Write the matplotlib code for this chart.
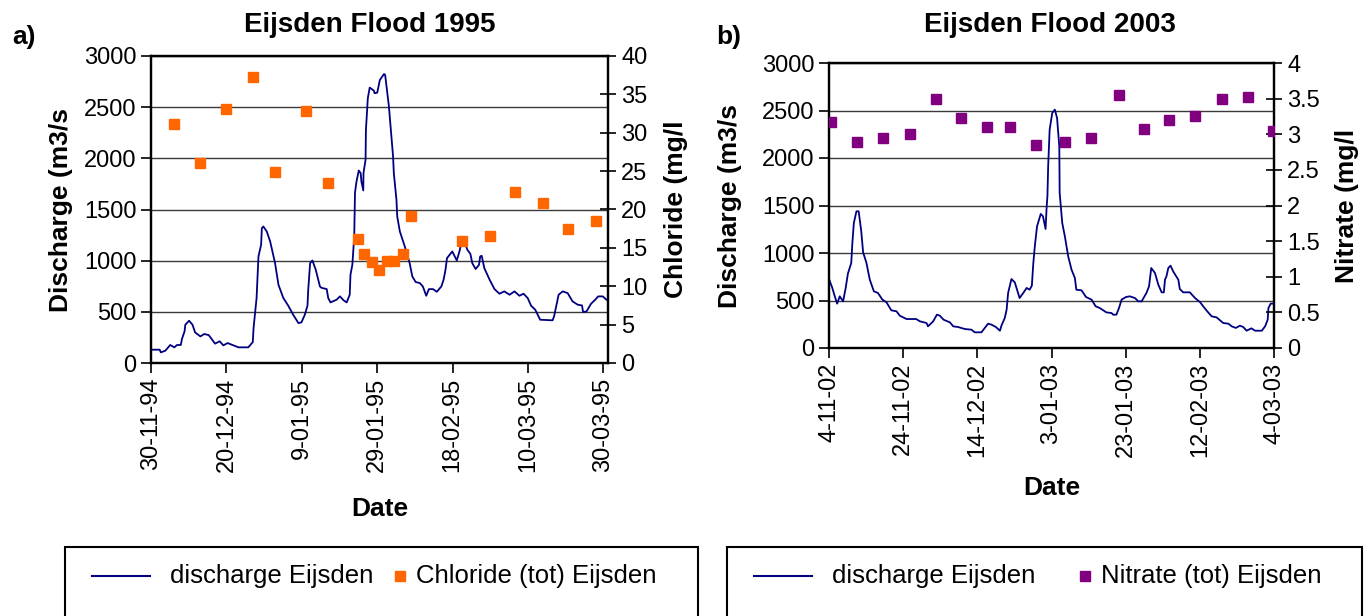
import datetime as dt
import matplotlib
matplotlib.use('Agg')
import matplotlib.pyplot as plt
import matplotlib.dates as mdates
from matplotlib.lines import Line2D
from matplotlib.patches import Rectangle
from matplotlib.ticker import FuncFormatter, MultipleLocator

plt.rcParams['font.family'] = ['Liberation Sans', 'DejaVu Sans']

# ---------------- data: flood 1995 (days since 30-11-94) ----------------
START_95 = dt.datetime(1994, 11, 30)
q95_day = [0, 2.3, 2.6, 3.8, 5.1, 6.2, 6.9, 7.9, 8.2, 8.9, 9.1, 10.1, 11.0, 11.7, 13.1, 14.1,
           15.3, 17.0, 18.2, 19.2, 20.3, 21.9, 23.2, 25.8, 27.0, 27.2, 28.0, 28.5, 29.2, 29.4,
           29.8, 30.7, 31.6, 32.9, 33.8, 35.1, 36.4, 37.7, 39.1, 39.9, 40.8, 41.5, 41.7, 42.2,
           42.8, 43.7, 44.8, 45.2, 46.6, 47.0, 47.6, 49.2, 50.1, 51.1, 51.9, 52.7, 52.9, 53.4,
           53.9, 54.1, 54.5, 55.1, 55.6, 55.8, 56.3, 56.35, 56.9, 57.0, 57.5, 58.0, 59.1, 59.3,
           60.0, 60.7, 61.8, 62.1, 63.1, 64.2, 64.4, 65.1, 65.3, 66.0, 67.3, 68.6, 69.3, 70.2,
           71.3, 72.1, 73.0, 73.7, 74.8, 75.8, 77.0, 77.6, 78.1, 78.5, 79.9, 81.1, 81.8, 82.3,
           83.2, 83.9, 84.7, 85.2, 86.1, 87.0, 87.3, 87.7, 88.4, 89.8, 91.1, 92.4, 93.7, 95.1,
           96.4, 97.7, 98.8, 99.9, 100.8, 101.9, 103.2, 106.5, 106.9, 108.1, 109.2, 110.5,
           111.8, 113.2, 114.3, 114.6, 115.5, 116.7, 117.8, 118.6, 119.8, 120.8]
q95_val = [130, 130, 104, 120, 176, 153, 176, 176, 234, 309, 374, 413, 374, 299, 260, 283,
           273, 189, 212, 172, 195, 172, 153, 153, 205, 342, 635, 1041, 1155, 1318,
           1334, 1285, 1188, 976, 765, 635, 560, 472, 390, 397, 472, 560, 716, 976,
           1002, 911, 748, 735, 722, 635, 592, 618, 651, 612, 592, 667, 862, 960,
           1237, 1666, 1773, 1881, 1855, 1773, 1686, 1855, 1985, 2278, 2587, 2691, 2662, 2636,
           2642, 2766, 2824, 2815, 2506, 2017, 1855, 1594, 1432, 1285, 1139, 976, 846, 791,
           781, 748, 657, 722, 722, 696, 748, 814, 911, 1025, 1090, 1002, 1090, 1171,
           1178, 1106, 1067, 976, 918, 960, 1041, 1048, 927, 814, 722, 677, 700, 667,
           700, 657, 677, 635, 560, 521, 423, 417, 456, 667, 700, 683,
           602, 569, 563, 498, 504, 579, 618, 651, 651, 618]
cl_day = [6, 13, 20, 27, 33, 41, 47, 55, 56.6, 58.7, 60.4, 62.7, 64.5, 66.7, 69, 82.5, 90,
          96.5, 104, 110.6, 118]
cl_val = [31.1, 26.1, 33.1, 37.2, 24.9, 32.8, 23.5, 16.2, 14.2, 13.2, 12.1, 13.3, 13.3, 14.2,
          19.1, 15.9, 16.5, 22.3, 20.9, 17.4, 18.5]

# ---------------- data: flood 2003 (days since 4-11-02) ----------------
START_03 = dt.datetime(2002, 11, 4)
q03_day = [0, 0.9, 1.5, 2.2, 2.9, 3.8, 4.5, 5.1, 6.0, 6.3, 6.7, 7.4, 8.0, 8.7, 9.2, 10.1,
           11.0, 12.1, 13.2, 14.4, 15.5, 16.8, 18.2, 19.1, 20.9, 23.5, 24.5, 26.3, 26.7, 28.1,
           29.1, 29.9, 30.9, 32.6, 33.5, 34.8, 36.6, 38.4, 39.3, 41.1, 42.0, 42.9, 43.8, 45.0,
           46.1, 46.5, 47.4, 47.9, 48.3, 49.2, 50.1, 51.4, 52.5, 53.3, 54.1, 54.7, 55.1, 55.5,
           56.1, 57.1, 57.7, 58.4, 58.7, 58.9, 59.1, 59.5, 60.2, 60.9, 61.5, 62.1, 62.2, 62.9,
           63.6, 64.5, 65.4, 66.3, 66.7, 68.1, 69.3, 70.8, 71.9, 73.0, 74.8, 76.2, 76.6, 77.5,
           78.2, 78.9, 80.1, 81.1, 82.5, 83.4, 84.3, 85.6, 86.3, 86.9, 87.9, 88.8, 89.7, 90.3,
           90.6, 91.0, 91.5, 92.1, 92.8, 94.2, 94.6, 95.5, 97.3, 98.7, 100.1, 100.9, 102.0,
           103.2, 104.5, 106.3, 107.7, 108.6, 109.7, 110.8, 111.7, 112.6, 113.9, 114.9, 116.7,
           117.6, 118.3, 118.5, 119.1, 120.0]
q03_val = [726, 632, 551, 467, 544, 491, 632, 783, 895, 1105, 1316, 1439, 1439, 1228, 1007, 895,
           719, 597, 579, 509, 481, 397, 386, 340, 305, 305, 281, 263, 228, 281,
           351, 340, 298, 270, 228, 221, 200, 193, 165, 165, 211, 256, 246, 221,
           182, 235, 316, 404, 579, 726, 691, 526, 586, 632, 614, 656, 895, 1070,
           1281, 1411, 1386, 1253, 1491, 1597, 1912, 2298, 2474, 2509, 2421, 2123, 1632, 1316,
           1176, 965, 825, 737, 614, 607, 537, 509, 439, 421, 375, 368, 351, 351,
           421, 509, 537, 544, 526, 491, 491, 579, 649, 842, 790, 667, 586, 586,
           719, 755, 842, 867, 807, 719, 621, 586, 586, 526, 481, 439, 386,
           333, 323, 263, 256, 228, 211, 235, 221, 182, 207, 182, 182,
           228, 298, 421, 467, 467]
no3_day = [0.6, 7.6, 14.6, 21.9, 28.8, 35.7, 42.5, 48.8, 55.8, 63.7, 70.6, 78.1, 84.9, 91.8,
           98.6, 106.1, 113.0, 119.8]
no3_val = [3.17, 2.89, 2.95, 3.01, 3.49, 3.23, 3.10, 3.10, 2.85, 2.89, 2.95, 3.55, 3.07, 3.20,
           3.26, 3.49, 3.52, 3.04]

LINE_C = '#000080'
CL_C = '#FF6600'
NO3_C = '#800080'
GRID_C = '#3a3a3a'
TICK_FS = 17
LAB_FS = 19
W, H = 1366, 616


def fmt_date(x, pos=None):
    d = mdates.num2date(x)
    return f"{d.day}-{d.month:02d}-{d.year % 100:02d}"


def make_panel(rect, start, qd, qv, sd, sv, scol, ylim2, step2, rlabel, xmax,
               xpad, lpad, rpad):
    t0 = mdates.date2num(start)
    ax = fig.add_axes(rect)
    ax.plot([t0 + d for d in qd], qv, color=LINE_C, lw=1.3, zorder=3)
    ax.set_ylim(0, 3000)
    ax.set_xlim(t0, t0 + xmax)
    ax.yaxis.set_major_locator(MultipleLocator(500))
    ax.set_xticks([t0 + d for d in range(0, 121, 20)])
    ax.xaxis.set_major_formatter(FuncFormatter(fmt_date))
    ax.grid(axis='y', color=GRID_C, lw=1.0)
    ax.set_axisbelow(True)
    ax.tick_params(axis='y', direction='out', length=7, width=1.2, labelsize=TICK_FS)
    ax.tick_params(axis='x', direction='out', length=7, width=1.2, labelsize=TICK_FS,
                   labelrotation=90)
    for s in ax.spines.values():
        s.set_linewidth(1.6)
    ax.set_ylabel('Discharge (m3/s', fontsize=LAB_FS, fontweight='bold', labelpad=lpad)
    ax.set_xlabel('Date', fontsize=LAB_FS, fontweight='bold', labelpad=xpad)

    ax2 = ax.twinx()
    ax2.plot([t0 + d for d in sd], sv, 's', color=scol, ms=7, zorder=4)
    ax2.set_ylim(0, ylim2)
    ax2.yaxis.set_major_locator(MultipleLocator(step2))
    ax2.yaxis.set_major_formatter(FuncFormatter(lambda v, p: f"{v:g}"))
    ax2.tick_params(axis='y', direction='inout', length=12, width=1.2, labelsize=TICK_FS)
    for s in ax2.spines.values():
        s.set_linewidth(1.6)
    ax2.set_ylabel(rlabel, fontsize=LAB_FS, fontweight='bold', labelpad=rpad)
    ax2.set_xlim(t0, t0 + xmax)
    return ax, ax2


def legend_box(x0, x1, name, col, mk_off):
    fig.patches.append(Rectangle((x0 / W, -0.1), (x1 - x0) / W, 0.1 + (H - 547) / H,
                                 transform=fig.transFigure, fill=False, ec='black', lw=1.5))
    yl = 1 - 576 / H
    fig.add_artist(Line2D([(x0 + 27) / W, (x0 + 85) / W], [yl, yl], color=LINE_C, lw=1.5,
                          transform=fig.transFigure))
    fig.text((x0 + 105) / W, yl, 'discharge Eijsden', fontsize=18.5, va='center')
    fig.add_artist(Line2D([(x0 + mk_off) / W], [yl], ls='none', marker='s', color=col, ms=7,
                          transform=fig.transFigure))
    fig.text((x0 + mk_off + 16) / W, yl, name, fontsize=18.5, va='center')


fig = plt.figure(figsize=(13.66, 6.16), dpi=100)

make_panel([151 / W, (H - 363) / H, 457 / W, 307 / H], START_95, q95_day, q95_val,
           cl_day, cl_val, CL_C, 40, 5, 'Chloride (mg/l', 121.2, 18, 8, 12)
make_panel([829 / W, (H - 348) / H, 445 / W, 285 / H], START_03, q03_day, q03_val,
           no3_day, no3_val, NO3_C, 4, 0.5, 'Nitrate (mg/l', 120, 14, 14, 11)

fig.text(370 / W, 1 - 25 / H, 'Eijsden Flood 1995', fontsize=20, fontweight='bold',
         ha='center', va='center')
fig.text(1050 / W, 1 - 25 / H, 'Eijsden Flood 2003', fontsize=20, fontweight='bold',
         ha='center', va='center')
fig.text(12 / W, 1 - 37 / H, 'a)', fontsize=19, fontweight='bold', va='center')
fig.text(716 / W, 1 - 37 / H, 'b)', fontsize=19, fontweight='bold', va='center')

legend_box(65, 698, 'Chloride (tot) Eijsden', CL_C, 335)
legend_box(727, 1362, 'Nitrate (tot) Eijsden', NO3_C, 358)

fig.savefig('out.png', dpi=100)
